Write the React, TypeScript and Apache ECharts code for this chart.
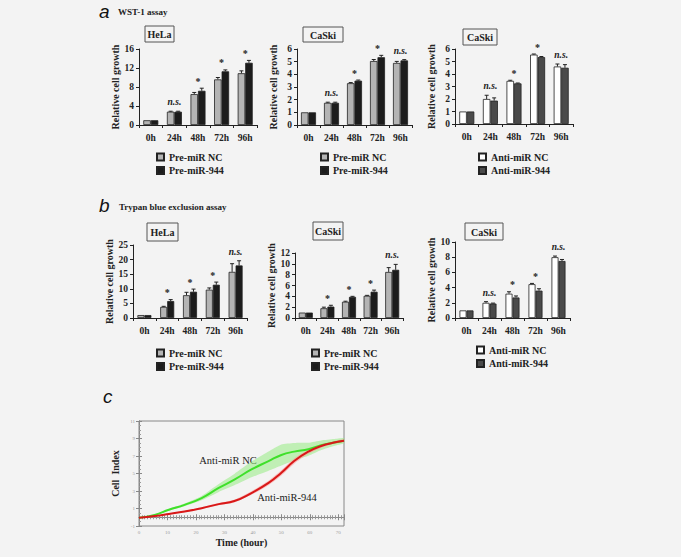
import React, { useEffect, useRef } from "react";
import * as echarts from "echarts";

const FONT = '"Liberation Serif", "Times New Roman", serif';
const CATS = ["0h", "24h", "48h", "72h", "96h"];

// Panel a — WST-1 assay
const aHelaNC = [1.0, 2.8, 6.5, 9.6, 10.9];
const aHelaNCErr = [0, 0.1, 0.35, 0.4, 0.5];
const aHela944 = [1.0, 2.8, 7.2, 11.3, 13.1];
const aHela944Err = [0, 0.1, 0.55, 0.3, 0.5];
const aHelaSig = ["", "n.s.", "*", "*", "*"];

const aCaskiNC = [1.0, 1.75, 3.3, 5.05, 4.9];
const aCaskiNCErr = [0, 0.05, 0.05, 0.12, 0.12];
const aCaski944 = [1.0, 1.75, 3.5, 5.35, 5.1];
const aCaski944Err = [0, 0.05, 0.05, 0.15, 0.06];
const aCaskiSig = ["", "n.s.", "*", "*", "n.s."];

const aAntiNC = [1.0, 2.0, 3.45, 5.55, 4.6];
const aAntiNCErr = [0, 0.3, 0.05, 0.05, 0.2];
const aAnti944 = [1.0, 1.87, 3.25, 5.35, 4.5];
const aAnti944Err = [0, 0.22, 0.03, 0.05, 0.25];
const aAntiSig = ["", "n.s.", "*", "*", "n.s."];

// Panel b — Trypan blue exclusion assay
const bHelaNC = [1.0, 3.8, 7.8, 9.7, 15.8];
const bHelaNCErr = [0, 0.2, 1.0, 0.6, 2.8];
const bHela944 = [1.0, 5.8, 9.0, 11.4, 18.0];
const bHela944Err = [0, 0.5, 0.9, 0.9, 1.6];
const bHelaSig = ["", "*", "*", "*", "n.s."];

const bCaskiNC = [1.0, 1.8, 3.0, 4.1, 8.5];
const bCaskiNCErr = [0, 0.2, 0.1, 0.08, 0.8];
const bCaski944 = [1.0, 2.1, 3.9, 4.85, 8.9];
const bCaski944Err = [0, 0.25, 0.1, 0.3, 1.0];
const bCaskiSig = ["", "*", "*", "*", "n.s."];

const bAntiNC = [1.0, 2.0, 3.2, 4.45, 8.0];
const bAntiNCErr = [0, 0.15, 0.25, 0.1, 0.15];
const bAnti944 = [1.0, 1.9, 2.7, 3.6, 7.5];
const bAnti944Err = [0, 0.06, 0.2, 0.25, 0.2];
const bAntiSig = ["", "n.s.", "*", "*", "n.s."];

// Panel c — real-time cell index
const hours = [0, 5.5, 10.5, 16, 22, 28, 33.5, 39.5, 45.5, 50, 54.5, 59.5, 64, 68.5, 72];
const ciNC = [-0.05, 0.27, 0.85, 1.42, 2.19, 3.35, 4.3, 5.46, 6.42, 7.12, 7.5, 7.77, 8.23, 8.54, 8.75];
const ciNCErr = [0, 0.05, 0.1, 0.15, 0.25, 0.45, 0.65, 0.9, 1.1, 1.2, 1.0, 0.75, 0.55, 0.4, 0.3];
const ci944 = [-0.05, 0.15, 0.38, 0.65, 1.04, 1.5, 1.85, 2.77, 3.92, 5.08, 6.42, 7.5, 8.15, 8.54, 8.75];
const ci944Err = [0, 0.03, 0.05, 0.07, 0.1, 0.12, 0.15, 0.2, 0.25, 0.3, 0.3, 0.25, 0.2, 0.15, 0.15];

const PRE_NAMES = ["Pre-miR NC", "Pre-miR-944"];
const ANTI_NAMES = ["Anti-miR NC", "Anti-miR-944"];
const PRE_COLORS = ["#b4b4b4", "#1c1c1c"];
const ANTI_COLORS = ["#ffffff", "#4a4a4a"];

type Panel = {
  left: number; top: number; width: number; height: number;
  max: number; interval: number;
  nc: number[]; ncErr: number[]; m: number[]; mErr: number[]; sig: string[];
  names: string[]; colors: string[]; barW: number;
  legendLeft: number; legendTop: number;
  box: [number, number, number, number]; title: string;
};

const panels: Panel[] = [
  { left: 139, top: 49, width: 118, height: 76, max: 16, interval: 4, nc: aHelaNC, ncErr: aHelaNCErr, m: aHela944, mErr: aHela944Err, sig: aHelaSig, names: PRE_NAMES, colors: PRE_COLORS, barW: 7.5, legendLeft: 156, legendTop: 151, box: [145, 26, 29, 16], title: "HeLa" },
  { left: 297, top: 49, width: 115, height: 76, max: 6, interval: 1, nc: aCaskiNC, ncErr: aCaskiNCErr, m: aCaski944, mErr: aCaski944Err, sig: aCaskiSig, names: PRE_NAMES, colors: PRE_COLORS, barW: 7.5, legendLeft: 320, legendTop: 151, box: [303, 27, 40, 15], title: "CaSki" },
  { left: 455, top: 49, width: 118, height: 75, max: 6, interval: 1, nc: aAntiNC, ncErr: aAntiNCErr, m: aAnti944, mErr: aAnti944Err, sig: aAntiSig, names: ANTI_NAMES, colors: ANTI_COLORS, barW: 7.5, legendLeft: 478, legendTop: 151, box: [463, 29, 34, 16], title: "CaSki" },
  { left: 133, top: 245, width: 114, height: 73, max: 25, interval: 5, nc: bHelaNC, ncErr: bHelaNCErr, m: bHela944, mErr: bHela944Err, sig: bHelaSig, names: PRE_NAMES, colors: PRE_COLORS, barW: 7, legendLeft: 156, legendTop: 347, box: [147, 223, 31, 18], title: "HeLa" },
  { left: 295, top: 253, width: 108, height: 65, max: 12, interval: 2, nc: bCaskiNC, ncErr: bCaskiNCErr, m: bCaski944, mErr: bCaski944Err, sig: bCaskiSig, names: PRE_NAMES, colors: PRE_COLORS, barW: 7, legendLeft: 311, legendTop: 347, box: [313, 222, 30, 18], title: "CaSki" },
  { left: 455, top: 242, width: 115, height: 76, max: 10, interval: 2, nc: bAntiNC, ncErr: bAntiNCErr, m: bAnti944, mErr: bAnti944Err, sig: bAntiSig, names: ANTI_NAMES, colors: ANTI_COLORS, barW: 7, legendLeft: 476, legendTop: 344, box: [465, 223, 38, 17], title: "CaSki" },
];

function buildOption() {
  const grid: any[] = [];
  const xAxis: any[] = [];
  const yAxis: any[] = [];
  const series: any[] = [];
  const legend: any[] = [];
  const graphic: any[] = [];

  panels.forEach((p, i) => {
    grid.push({ left: p.left, top: p.top, width: p.width, height: p.height, containLabel: false });
    xAxis.push({
      gridIndex: i, type: "category", data: CATS,
      axisLine: { lineStyle: { color: "#222", width: 1 } },
      axisTick: { show: true, length: 3, lineStyle: { color: "#222" } },
      axisLabel: { fontFamily: FONT, fontWeight: "bold", fontSize: 9.5, color: "#222", margin: 8 },
    });
    yAxis.push({
      gridIndex: i, type: "value", min: 0, max: p.max, interval: p.interval,
      axisLine: { show: true, lineStyle: { color: "#222", width: 1 } },
      axisTick: { show: true, length: 3, lineStyle: { color: "#222" } },
      splitLine: { show: false },
      axisLabel: { fontFamily: FONT, fontWeight: "bold", fontSize: 9.5, color: "#222", margin: 5 },
      name: "Relative cell growth", nameLocation: "middle", nameGap: 19,
      nameTextStyle: { fontFamily: FONT, fontWeight: "bold", fontSize: 10, color: "#222" },
    });
    const bw = p.barW;
    [[p.nc, p.ncErr, -bw / 2, 0], [p.m, p.mErr, bw / 2, 1]].forEach(([vals, errs, off, k]: any) => {
      series.push({
        type: "bar", name: p.names[k], xAxisIndex: i, yAxisIndex: i, data: vals,
        barWidth: bw, barGap: "0%",
        itemStyle: { color: p.colors[k], borderColor: "#222", borderWidth: 0.8 },
      });
      series.push({
        type: "custom", name: "err" + i + "_" + k, xAxisIndex: i, yAxisIndex: i, silent: true, z: 3,
        encode: { x: 0, y: 1 },
        data: vals.map((v: number, j: number) => [j, v, errs[j]]),
        renderItem: (params: any, api: any) => {
          const c = api.value(0), v = api.value(1), e = api.value(2);
          if (!e) return null;
          const p0 = api.coord([c, v]);
          const p1 = api.coord([c, v + e]);
          const x = p0[0] + off;
          const st = { stroke: "#222", lineWidth: 1 };
          return {
            type: "group",
            children: [
              { type: "line", shape: { x1: x, y1: p0[1], x2: x, y2: p1[1] }, style: st },
              { type: "line", shape: { x1: x - 2, y1: p1[1], x2: x + 2, y2: p1[1] }, style: st },
            ],
          };
        },
      });
    });
    const tops = p.nc.map((v, j) => Math.max(v + p.ncErr[j], p.m[j] + p.mErr[j]));
    series.push({
      type: "custom", name: "sig" + i, xAxisIndex: i, yAxisIndex: i, silent: true, z: 4,
      encode: { x: 0, y: 1 },
      data: tops.map((t, j) => [j, t]),
      renderItem: (params: any, api: any) => {
        const s = p.sig[params.dataIndex];
        if (!s) return null;
        const pt = api.coord([api.value(0), api.value(1)]);
        const ns = s === "n.s.";
        return {
          type: "text", x: pt[0], y: pt[1] - (ns ? 4 : 2),
          style: {
            text: s, fill: "#222", fontFamily: FONT,
            fontSize: ns ? 9.5 : 10, fontWeight: "bold", fontStyle: ns ? "italic" : "normal",
            align: "center", verticalAlign: "bottom", textAlign: "center", textVerticalAlign: "bottom",
          },
        };
      },
    });
    legend.push({
      left: p.legendLeft, top: p.legendTop, orient: "vertical", data: p.names,
      icon: "rect", itemWidth: 7, itemHeight: 7, itemGap: 1.5, selectedMode: false, padding: 0,
      textStyle: { fontFamily: FONT, fontWeight: "bold", fontSize: 10, color: "#222", lineHeight: 12 },
    });
    const [bx, by, bwd, bh] = p.box;
    graphic.push({ type: "rect", shape: { x: bx, y: by, width: bwd, height: bh }, style: { fill: "none", stroke: "#555", lineWidth: 1 } });
    graphic.push({
      type: "text", x: bx + bwd / 2, y: by + bh / 2 + 0.5,
      style: { text: p.title, fontFamily: FONT, fontWeight: "bold", fontSize: 10, fill: "#222", align: "center", verticalAlign: "middle", textAlign: "center", textVerticalAlign: "middle" },
    });
  });

  // Panel c
  const cg = panels.length;
  grid.push({ left: 139, top: 421, width: 205, height: 105, show: true, borderColor: "#888", borderWidth: 1, backgroundColor: "transparent" });
  const smallLbl = { fontFamily: FONT, fontSize: 5, color: "#999" };
  xAxis.push({
    gridIndex: cg, type: "value", min: 0, max: 72, interval: 10,
    axisLine: { lineStyle: { color: "#888" } },
    axisTick: { inside: true, length: 3, lineStyle: { color: "#888" } },
    minorTick: { show: true, splitNumber: 10, length: 2, lineStyle: { color: "#999" } },
    splitLine: { show: false },
    axisLabel: { ...smallLbl, margin: 4, showMaxLabel: false },
    name: "Time (hour)", nameLocation: "middle", nameGap: 11,
    nameTextStyle: { fontFamily: FONT, fontWeight: "bold", fontSize: 10, color: "#222" },
  });
  xAxis.push({
    gridIndex: cg, type: "value", position: "top", min: 0, max: 72, interval: 10,
    axisLine: { lineStyle: { color: "#888" } },
    axisTick: { inside: true, length: 3, lineStyle: { color: "#888" } },
    minorTick: { show: true, splitNumber: 10, length: 2, lineStyle: { color: "#999" } },
    splitLine: { show: false }, axisLabel: { show: false },
  });
  yAxis.push({
    gridIndex: cg, type: "value", min: -1, max: 11, interval: 2,
    axisLine: { show: true, lineStyle: { color: "#888" } },
    axisTick: { show: true, inside: true, length: 3, lineStyle: { color: "#888" } },
    minorTick: { show: true, splitNumber: 4, length: 2, lineStyle: { color: "#999" } },
    splitLine: { show: false },
    axisLabel: { ...smallLbl, margin: 4 },
    name: "Cell  Index", nameLocation: "middle", nameGap: 19,
    nameTextStyle: { fontFamily: FONT, fontWeight: "bold", fontSize: 10, color: "#222" },
  });
  yAxis.push({
    gridIndex: cg, type: "value", position: "right", min: -1, max: 11, interval: 2,
    axisLine: { show: true, lineStyle: { color: "#888" } },
    axisTick: { show: true, inside: true, length: 3, lineStyle: { color: "#888" } },
    splitLine: { show: false }, axisLabel: { show: false },
  });

  const band = (name: string, vals: number[], errs: number[], fill: string) => ({
    type: "custom", name, xAxisIndex: cg, yAxisIndex: cg, silent: true, z: 1,
    encode: { x: 0, y: 1 },
    data: hours.map((h, j) => [h, vals[j], errs[j]]),
    renderItem: (params: any, api: any) => {
      if (params.dataIndex !== 0) return null;
      const up = hours.map((h, j) => api.coord([h, vals[j] + errs[j]]));
      const lo = hours.map((h, j) => api.coord([h, vals[j] - errs[j]])).reverse();
      return { type: "polygon", shape: { points: up.concat(lo), smooth: 0.15 }, style: { fill } };
    },
  });
  series.push(band("bandNC", ciNC, ciNCErr, "rgba(150,235,130,0.55)"));
  series.push(band("band944", ci944, ci944Err, "rgba(255,150,150,0.6)"));
  series.push({
    type: "line", name: "Anti-miR NC curve", xAxisIndex: cg, yAxisIndex: cg, z: 3,
    data: hours.map((h, j) => [h, ciNC[j]]), smooth: true, showSymbol: false,
    lineStyle: { color: "#3fe02a", width: 2 },
  });
  series.push({
    type: "line", name: "Anti-miR-944 curve", xAxisIndex: cg, yAxisIndex: cg, z: 4,
    data: hours.map((h, j) => [h, ci944[j]]), smooth: true, showSymbol: false,
    lineStyle: { color: "#d81818", width: 2 },
  });

  const letter = (t: string, x: number, y: number) => ({
    type: "text", x, y,
    style: { text: t, fontFamily: '"Liberation Sans", Arial, sans-serif', fontStyle: "italic", fontSize: 19, fill: "#111", align: "left", verticalAlign: "middle", textAlign: "left", textVerticalAlign: "middle" },
  });
  const assay = (t: string, x: number, y: number) => ({
    type: "text", x, y,
    style: { text: t, fontFamily: FONT, fontWeight: "bold", fontSize: 9, fill: "#222", align: "left", verticalAlign: "middle", textAlign: "left", textVerticalAlign: "middle" },
  });
  graphic.push(letter("a", 99, 11));
  graphic.push(assay("WST-1 assay", 118, 12));
  graphic.push(letter("b", 99, 205));
  graphic.push(assay("Trypan blue exclusion assay", 119, 207));
  graphic.push(letter("c", 103, 396));
  const curveLbl = (t: string, x: number, y: number) => ({
    type: "text", x, y,
    style: { text: t, fontFamily: FONT, fontSize: 10.5, fill: "#222", align: "center", verticalAlign: "middle", textAlign: "center", textVerticalAlign: "middle" },
  });
  graphic.push(curveLbl("Anti-miR NC", 228, 460));
  graphic.push(curveLbl("Anti-miR-944", 287, 497));

  return {
    animation: false,
    backgroundColor: "#f3f3f3",
    grid, xAxis, yAxis, series, legend, graphic,
  };
}

export default function App() {
  const ref = useRef<HTMLDivElement>(null);
  useEffect(() => {
    document.body.style.margin = "0";
    document.body.style.background = "#f3f3f3";
    const chart = echarts.init(ref.current!, null, { renderer: "svg" });
    chart.setOption(buildOption() as any);
    return () => chart.dispose();
  }, []);
  return <div ref={ref} style={{ position: "fixed", left: 0, top: 0, width: 681, height: 557 }} />;
}
